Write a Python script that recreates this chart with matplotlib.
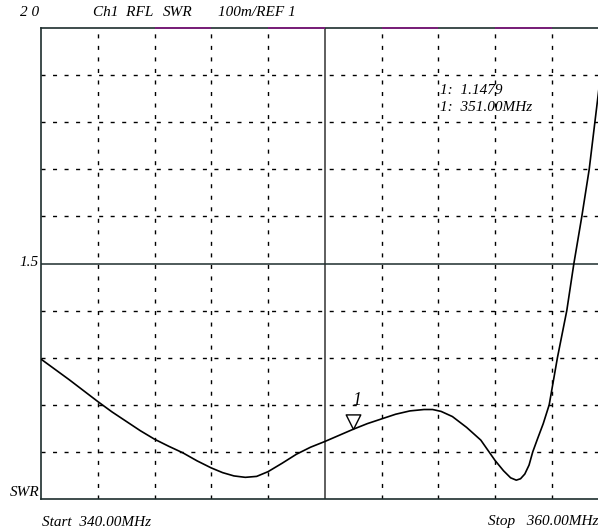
import numpy as np
import matplotlib
matplotlib.use("Agg")
import matplotlib.pyplot as plt
from matplotlib.path import Path

# --- data ---
freq_mhz = [340.0, 340.5, 341.0, 341.5, 342.0, 342.5, 343.0, 343.5, 344.0,
            344.5, 345.0, 345.5, 346.0, 346.4, 346.8, 347.2, 347.6, 348.0,
            348.5, 349.0, 349.5, 350.0, 350.5, 351.0, 351.5, 352.0, 352.5,
            353.0, 353.5, 353.8, 354.1, 354.5, 355.0, 355.5, 356.0, 356.3,
            356.55, 356.75, 356.9, 357.05, 357.2, 357.33, 357.5, 357.7,
            357.91, 358.2, 358.53, 358.78, 359.06, 359.32, 359.52, 359.72,
            359.92, 360.0]
swr = [1.297, 1.275, 1.253, 1.230, 1.207, 1.185, 1.165, 1.145, 1.127,
       1.112, 1.098, 1.081, 1.066, 1.056, 1.049, 1.046, 1.048, 1.058,
       1.076, 1.095, 1.110, 1.122, 1.135, 1.148, 1.160, 1.170, 1.180,
       1.187, 1.190, 1.190, 1.186, 1.175, 1.152, 1.125, 1.082, 1.060,
       1.045, 1.040, 1.043, 1.053, 1.072, 1.100, 1.128, 1.160,
       1.200, 1.300, 1.400, 1.500, 1.600, 1.700, 1.800, 1.900,
       2.000, 2.030]

marker_freq = 351.0
marker_swr = 1.1479
top_marks = [(344.0, 346.0), (348.0, 350.0), (352.0, 354.0), (356.0, 358.0)]

f_start, f_stop = 340.0, 360.0
y_bot, y_top = 1.0, 2.0

W, H = 598, 530
fig = plt.figure(figsize=(W / 100, H / 100), dpi=100)
fig.patch.set_facecolor("white")

# plot box runs past the right edge of the picture (cropped screenshot)
L, T, R, B = 41, 28, 608.5, 499
ax = fig.add_axes([L / W, 1 - B / H, (R - L) / W, (B - T) / H])
ax.set_xlim(f_start, f_stop)
ax.set_ylim(y_bot, y_top)
ax.set_xticks([])
ax.set_yticks([])
for s in ax.spines.values():
    s.set_color("#1e2e2e")
    s.set_linewidth(1.2)

dash = (2.9, 5.4)
for k in range(1, 10):
    f = f_start + k * (f_stop - f_start) / 10
    if k == 5:
        ax.axvline(f, color="#333333", lw=1.1, zorder=1)
    else:
        ax.axvline(f, color="black", lw=1.0, dashes=dash, zorder=1)
for k in range(1, 10):
    v = y_bot + k * (y_top - y_bot) / 10
    if k == 5:
        ax.axhline(v, color="#1e2e2e", lw=1.1, zorder=1)
    else:
        ax.axhline(v, color="black", lw=1.0, dashes=dash, zorder=1)

for a, b in top_marks:
    ax.hlines(y_top, a, b, color="#7a1f7a", lw=1.4, zorder=3, clip_on=False)

ax.plot(freq_mhz, swr, color="black", lw=1.2, zorder=4,
        solid_joinstyle="round")

# marker triangle, tip on the trace
tri = Path([(0, 0), (-0.5, 1), (0.5, 1), (0, 0)],
           [Path.MOVETO, Path.LINETO, Path.LINETO, Path.CLOSEPOLY])
ax.plot([marker_freq], [marker_swr], marker=tri, ms=21, mfc="white",
        mec="black", mew=1.0, ls="none", zorder=5)
ax.annotate("1", (marker_freq, marker_swr), xytext=(3, 15),
            textcoords="offset points", ha="center", va="bottom",
            fontsize=13, family="Liberation Serif", style="italic", zorder=6)

font = dict(family="Liberation Serif", style="italic", fontsize=11)


def px(x, y):
    return x / W, 1 - y / H


fig.text(*px(20, 12), "2 0", va="center", ha="left", **font)
fig.text(*px(93, 12), "Ch1  RFL", va="center", ha="left", **font)
fig.text(*px(163, 12), "SWR", va="center", ha="left", **font)
fig.text(*px(218, 12), "100m/REF 1", va="center", ha="left", **font)
fig.text(*px(39, 263), "1.5", va="center", ha="right", **font)
fig.text(*px(40, 492), "SWR", va="center", ha="right", **font)
fig.text(*px(42, 522), "Start  340.00MHz", va="center", ha="left", **font)
fig.text(*px(488, 522), "Stop   360.00MHz", va="center", ha="left", **font)
fig.text(*px(440, 90), "1:  1.1479", va="center", ha="left", **font)
fig.text(*px(440, 107), "1:  351.00MHz", va="center", ha="left", **font)

fig.savefig("out.png", dpi=100)
